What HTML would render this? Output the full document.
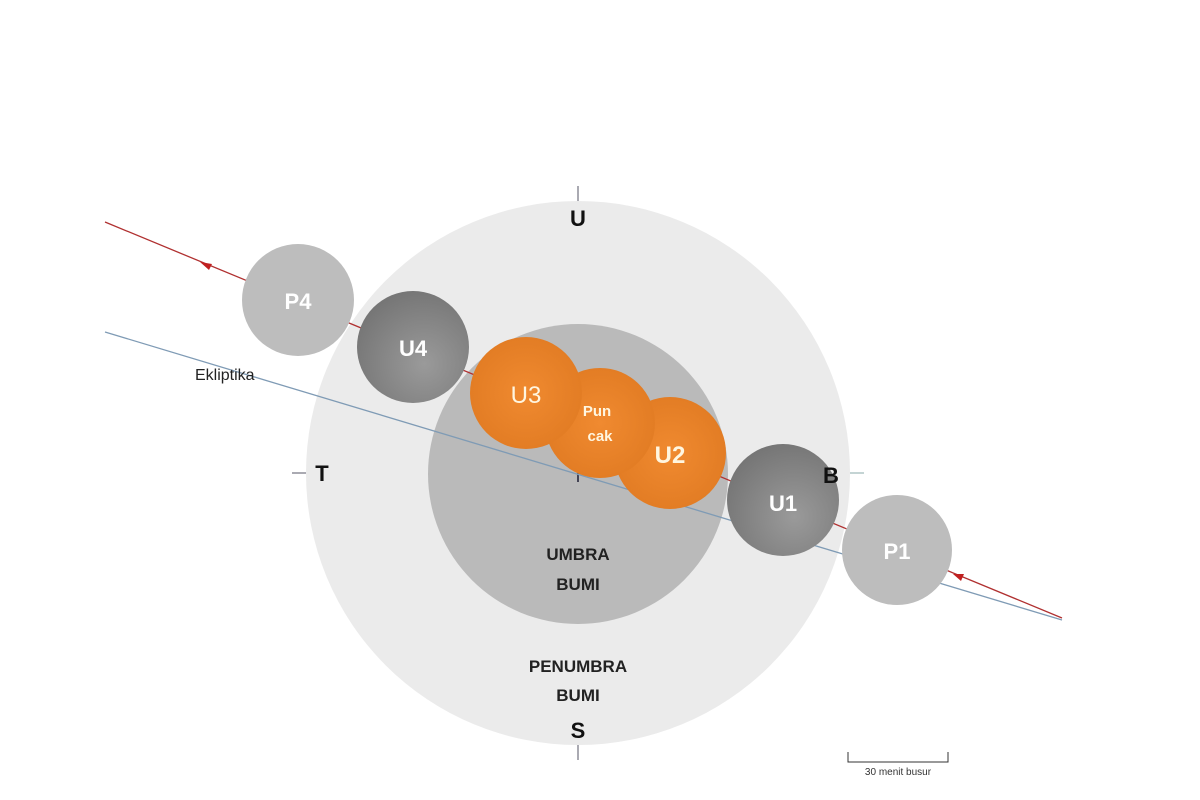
<!DOCTYPE html>
<html><head><meta charset="utf-8"><style>html,body{margin:0;padding:0;background:#fff}svg{display:block}</style></head><body>
<svg width="1200" height="800" viewBox="0 0 1200 800" xmlns="http://www.w3.org/2000/svg" font-family="Liberation Sans, sans-serif">
<defs>
<radialGradient id="dg" cx="0.6" cy="0.65" r="0.7"><stop offset="0" stop-color="#9a9a9a"/><stop offset="1" stop-color="#747474"/></radialGradient>
<radialGradient id="og" cx="0.5" cy="0.5" r="0.6"><stop offset="0" stop-color="#f08a30"/><stop offset="1" stop-color="#e07a22"/></radialGradient>
</defs>
<circle cx="578" cy="473" r="272" fill="#ebebeb"/>
<circle cx="578" cy="474" r="150" fill="#bababa"/>
<line x1="578" y1="186" x2="578" y2="201" stroke="#556" stroke-width="1"/>
<line x1="578" y1="745" x2="578" y2="760" stroke="#556" stroke-width="1"/>
<line x1="292" y1="473" x2="306" y2="473" stroke="#556" stroke-width="1"/>
<line x1="850" y1="473" x2="864" y2="473" stroke="#8aa" stroke-width="1"/>
<line x1="578" y1="466" x2="578" y2="482" stroke="#445" stroke-width="2"/>
<line x1="105" y1="332" x2="1062" y2="620" stroke="#7f9bb5" stroke-width="1.3"/>
<line x1="105" y1="222" x2="1062" y2="618" stroke="#b03030" stroke-width="1.3"/>
<polygon points="200,262 212,264 209,270" fill="#c02020"/>
<polygon points="953,574 964,574 961,581" fill="#c02020"/>
<circle cx="298" cy="300" r="56" fill="#bdbdbd"/>
<circle cx="413" cy="347" r="56" fill="url(#dg)"/>
<circle cx="783" cy="500" r="56" fill="url(#dg)"/>
<circle cx="897" cy="550" r="55" fill="#bdbdbd"/>
<circle cx="670" cy="453" r="56" fill="url(#og)"/>
<circle cx="600" cy="423" r="55" fill="url(#og)"/>
<circle cx="526" cy="393" r="56" fill="url(#og)"/>
<g fill="#fff" font-weight="bold" font-size="22" text-anchor="middle">
<text x="298" y="309">P4</text>
<text x="413" y="356">U4</text>
<text x="783" y="511">U1</text>
<text x="897" y="559">P1</text>
<text x="670" y="463" font-size="24" fill="#fff6e0">U2</text>
<text x="526" y="403" font-weight="normal" font-size="24" fill="#fff6e0">U3</text>
<text x="597" y="416" font-size="15" fill="#fff6e0">Pun</text>
<text x="600" y="441" font-size="15" fill="#fff6e0">cak</text>
</g>
<g fill="#111" font-weight="bold" font-size="22" text-anchor="middle">
<text x="578" y="226">U</text>
<text x="578" y="738">S</text>
<text x="322" y="481">T</text>
<text x="831" y="483">B</text>
</g>
<g fill="#222" font-weight="bold" font-size="17" text-anchor="middle">
<text x="578" y="560">UMBRA</text>
<text x="578" y="590">BUMI</text>
<text x="578" y="672">PENUMBRA</text>
<text x="578" y="701">BUMI</text>
</g>
<text x="195" y="380" font-size="16" fill="#222">Ekliptika</text>
<path d="M848 752 V762 H948 V752" fill="none" stroke="#333" stroke-width="1"/>
<text x="898" y="775" font-size="10" fill="#333" text-anchor="middle">30 menit busur</text>
</svg>
</body></html>
